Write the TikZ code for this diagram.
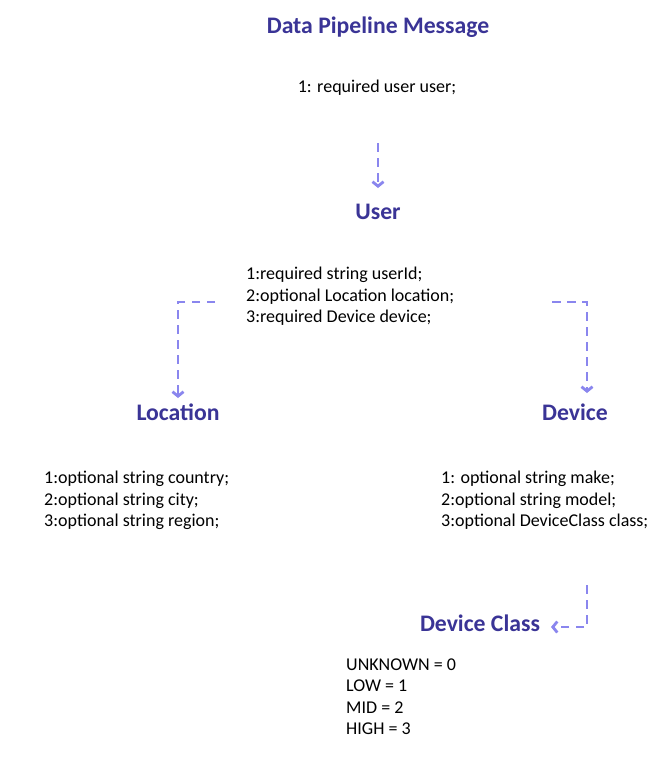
\documentclass[tikz,border=0pt]{standalone}
\usepackage{fontspec}
\setmainfont{Carlito}
\usetikzlibrary{arrows.meta}
\definecolor{headc}{HTML}{3A3496}
\definecolor{arrc}{HTML}{8A86EE}
\tikzset{
  head/.style={font=\fontsize{23.7}{28}\selectfont\bfseries, text=headc, inner sep=0pt},
  body/.style={font=\fontsize{18}{21.4}\selectfont, align=left, inner sep=0pt, anchor=north west},
  arr/.style={draw=arrc, line width=2.2pt, dash pattern=on 8.5pt off 6.5pt,
    -{Straight Barb[length=4.5pt,width=11pt,line width=2.8pt]}},
}
\begin{document}
\begin{tikzpicture}[x=1pt,y=-1pt]
\useasboundingbox (0,0) rectangle (671,772);
\fill[white] (0,0) rectangle (671,772);

\node[head] (title) at (378,27) {Data Pipeline Message};
\node[font=\fontsize{18}{21.4}\selectfont, inner sep=0pt] (msg) at (377,88) {1: required user user;};

\node[head] (user) at (378,212) {User};
\node[body] (userf) at (246,267) {1:required string userId;\\2:optional Location location;\\3:required Device device;};

\node[head] (loc) at (178,412) {Location};
\node[body] (locf) at (44,471) {1:optional string country;\\2:optional string city;\\3:optional string region;};

\node[head] (dev) at (575,412) {Device};
\node[body] (devf) at (441,471) {1: optional string make;\\2:optional string model;\\3:optional DeviceClass class;};

\node[head] (dc) at (480,623) {Device Class};
\node[body] (dcf) at (346,658.5) {UNKNOWN = 0\\LOW = 1\\MID = 2\\HIGH = 3};

\coordinate (a1) at (378,143);
\coordinate (a2) at (378,188);
\coordinate (b1) at (215,302);
\coordinate (b2) at (178,398);
\coordinate (c1) at (552,302);
\coordinate (c2) at (587,393);
\coordinate (d1) at (587,585);
\coordinate (d2) at (551,627);

\draw[arr] (a1) -- (a2);
\draw[arr] (b1) -| (b2);
\draw[arr] (c1) -| (c2);
\draw[arr] (d1) |- (d2);
\end{tikzpicture}
\end{document}
